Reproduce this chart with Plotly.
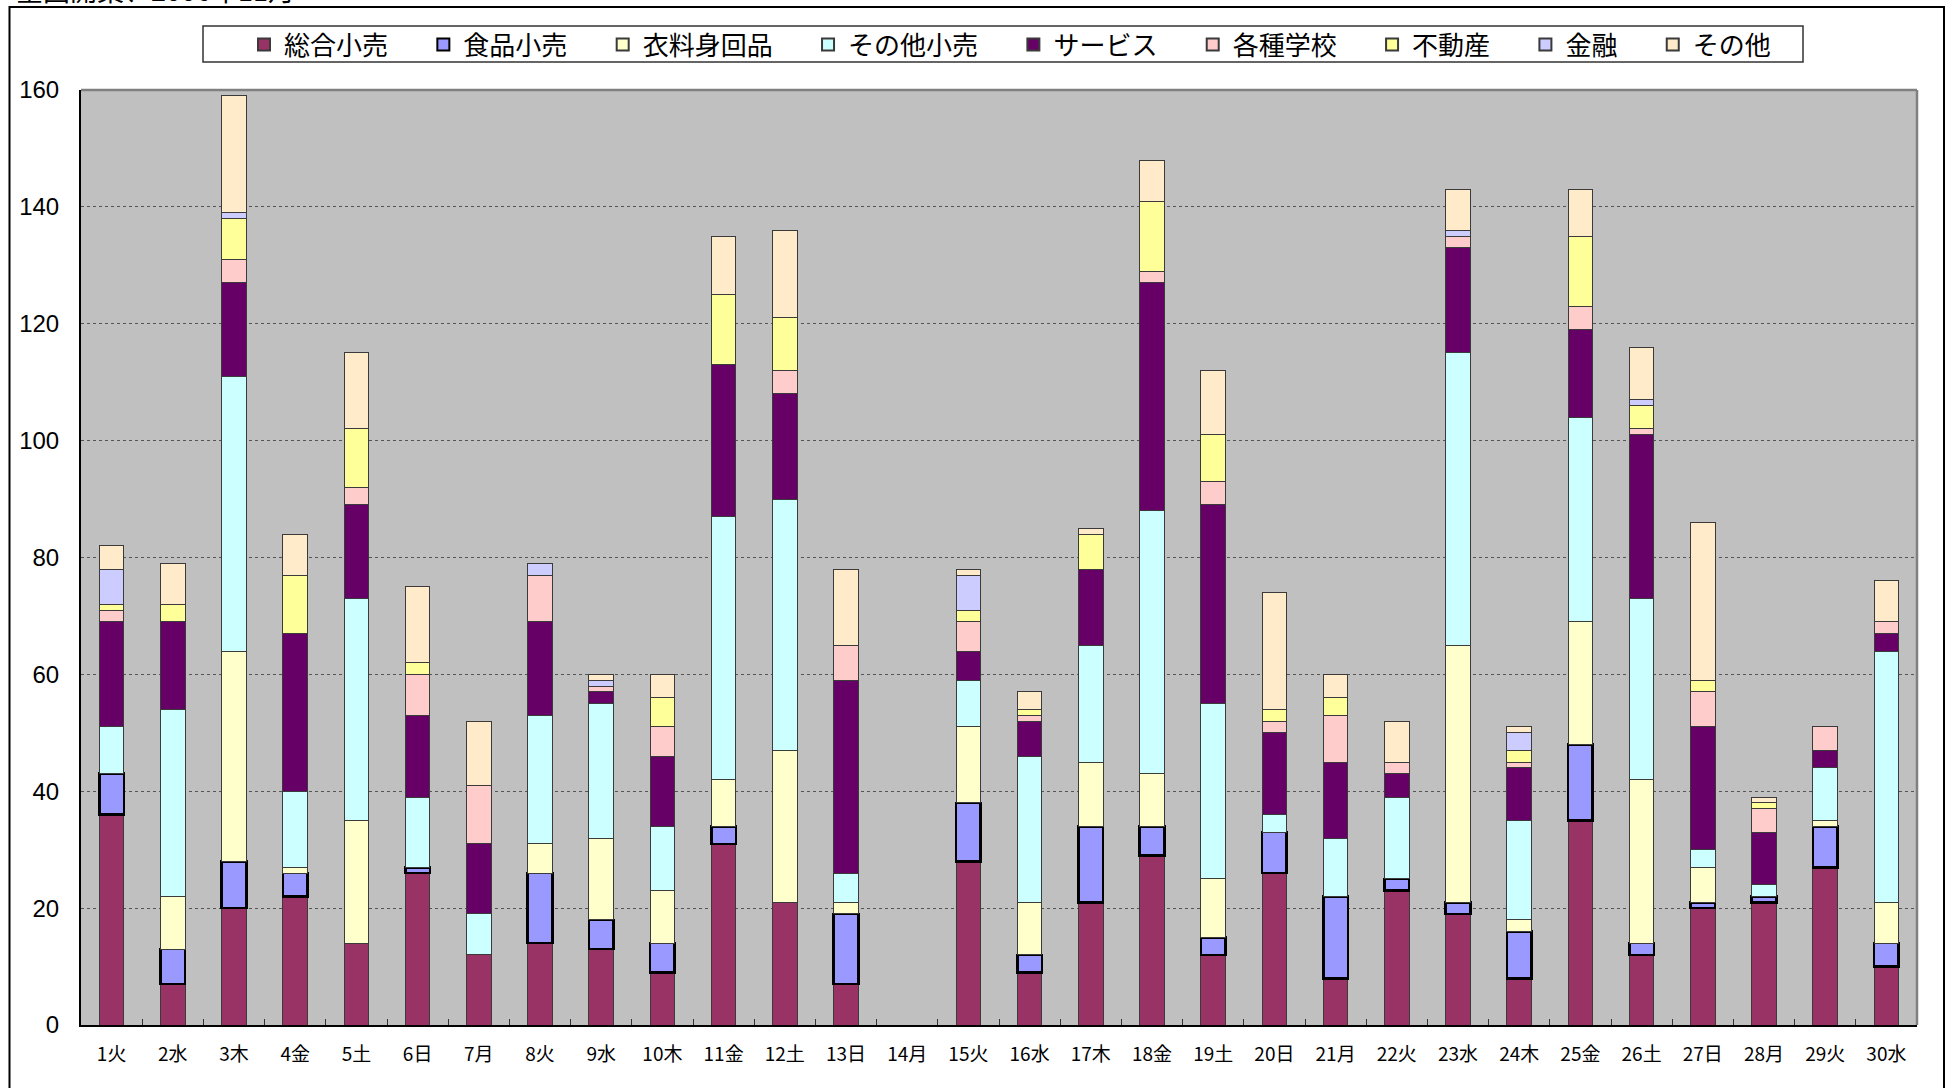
import plotly.graph_objects as go

days = ["1火", "2水", "3木", "4金", "5土", "6日", "7月", "8火", "9水", "10木",
        "11金", "12土", "13日", "14月", "15火", "16水", "17木", "18金", "19土", "20日",
        "21月", "22火", "23水", "24木", "25金", "26土", "27日", "28月", "29火", "30水"]

sogo_kouri   = [36, 7, 20, 22, 14, 26, 12, 14, 13, 9, 31, 21, 7, 0, 28, 9, 21, 29, 12, 26, 8, 23, 19, 8, 35, 12, 20, 21, 27, 10]
shokuhin     = [7, 6, 8, 4, 0, 1, 0, 12, 5, 5, 3, 0, 12, 0, 10, 3, 13, 5, 3, 7, 14, 2, 2, 8, 13, 2, 1, 1, 7, 4]
iryou        = [0, 9, 36, 1, 21, 0, 0, 5, 14, 9, 8, 26, 2, 0, 13, 9, 11, 9, 10, 0, 0, 0, 44, 2, 21, 28, 6, 0, 1, 7]
sonota_kouri = [8, 32, 47, 13, 38, 12, 7, 22, 23, 11, 45, 43, 5, 0, 8, 25, 20, 45, 30, 3, 10, 14, 50, 17, 35, 31, 3, 2, 9, 43]
service      = [18, 15, 16, 27, 16, 14, 12, 16, 2, 12, 26, 18, 33, 0, 5, 6, 13, 39, 34, 14, 13, 4, 18, 9, 15, 28, 21, 9, 3, 3]
gakkou       = [2, 0, 4, 0, 3, 7, 10, 8, 1, 5, 0, 4, 6, 0, 5, 1, 0, 2, 4, 2, 8, 2, 2, 1, 4, 1, 6, 4, 4, 2]
fudousan     = [1, 3, 7, 10, 10, 2, 0, 0, 0, 5, 12, 9, 0, 0, 2, 1, 6, 12, 8, 2, 3, 0, 0, 2, 12, 4, 2, 1, 0, 0]
kinyuu       = [6, 0, 1, 0, 0, 0, 0, 2, 1, 0, 0, 0, 0, 0, 6, 0, 0, 0, 0, 0, 0, 0, 1, 3, 0, 1, 0, 0, 0, 0]
sonota       = [4, 7, 20, 7, 13, 13, 11, 0, 1, 4, 10, 15, 13, 0, 1, 3, 1, 7, 11, 20, 4, 7, 7, 1, 8, 9, 27, 1, 0, 7]

series_names = ["総合小売", "食品小売", "衣料身回品", "その他小売", "サービス", "各種学校", "不動産", "金融", "その他"]
series_values = [sogo_kouri, shokuhin, iryou, sonota_kouri, service, gakkou, fudousan, kinyuu, sonota]
y_ticks = [0, 20, 40, 60, 80, 100, 120, 140, 160]

colors = ["#993366", "#9999FF", "#FFFFCC", "#CCFFFF", "#660066", "#FFCCCC", "#FFFF99", "#CCCCFF", "#FFEBCA"]

FONT = "Noto Sans CJK JP, Noto Sans, sans-serif"

fig = go.Figure()
for name, vals, col in zip(series_names, series_values, colors):
    is_food = name == "食品小売"
    fig.add_trace(go.Bar(
        x=days, y=[v if v else None for v in vals], name=name + "\u3000\u2006",
        marker=dict(color=col,
                    line=dict(color="#000000" if is_food else "#3a3a3a",
                              width=2.6 if is_food else 1)),
    ))

W, H = 1952, 1088
L, R, T, B = 81, 1917, 90, 1025

fig.update_layout(
    width=W, height=H,
    barmode="stack", bargap=0.6,
    margin=dict(l=L, r=W - R, t=T, b=H - B, pad=0, autoexpand=False),
    paper_bgcolor="white", plot_bgcolor="#C0C0C0",
    font=dict(family=FONT, color="black"),
    showlegend=True,
    legend=dict(orientation="h", xref="container", yref="container",
                x=244 / W, xanchor="left",
                y=1 - 21 / H, yanchor="top",
                borderwidth=0, bgcolor="rgba(0,0,0,0)",
                font=dict(size=26, family=FONT), traceorder="normal",
                itemsizing="constant"),
    xaxis=dict(type="category", showgrid=False, showline=True, linecolor="black", linewidth=2,
               ticks="inside", tickson="boundaries", ticklen=6, tickcolor="#333333",
               tickfont=dict(size=19, family=FONT), ticklabelstandoff=11,
               fixedrange=True, automargin=False),
    yaxis=dict(range=[0, 160], tickvals=y_ticks, showgrid=True, gridcolor="#555555",
               griddash="dot", gridwidth=1, showline=True, linecolor="black", linewidth=2,
               ticks="", tickfont=dict(size=24, family="Liberation Sans, Arial, sans-serif"),
               ticklabelstandoff=15, zeroline=False, automargin=False),
)

def px_x(p):
    return (p - L) / (R - L)

def px_y(p):
    return (B - p) / (B - T)

# plot area top / right border (gray)
fig.add_shape(type="line", xref="paper", yref="paper", x0=0, x1=1, y0=1, y1=1,
              line=dict(color="#808080", width=2.5))
fig.add_shape(type="line", xref="paper", yref="paper", x0=1, x1=1, y0=0, y1=1,
              line=dict(color="#808080", width=2.5))

# outer chart border
fig.add_shape(type="rect", xref="paper", yref="paper",
              x0=px_x(9.5), x1=px_x(1944), y0=px_y(1100), y1=px_y(7),
              line=dict(color="black", width=2), fillcolor="rgba(0,0,0,0)", layer="below")

# legend box
fig.add_shape(type="rect", xref="paper", yref="paper",
              x0=px_x(203), x1=px_x(1803), y0=px_y(62), y1=px_y(26),
              line=dict(color="#333333", width=1.5), fillcolor="white", layer="below")

# cropped title at the very top
fig.add_annotation(text="全国開業、2006年11月", xref="paper", yref="paper",
                   x=px_x(14), xanchor="left", y=px_y(11), yanchor="bottom",
                   showarrow=False, font=dict(size=27, family=FONT, color="black"))

fig.write_html("out.html", config={"displayModeBar": False},
               post_script="document.body.style.margin='0';document.body.style.overflow='hidden';")
